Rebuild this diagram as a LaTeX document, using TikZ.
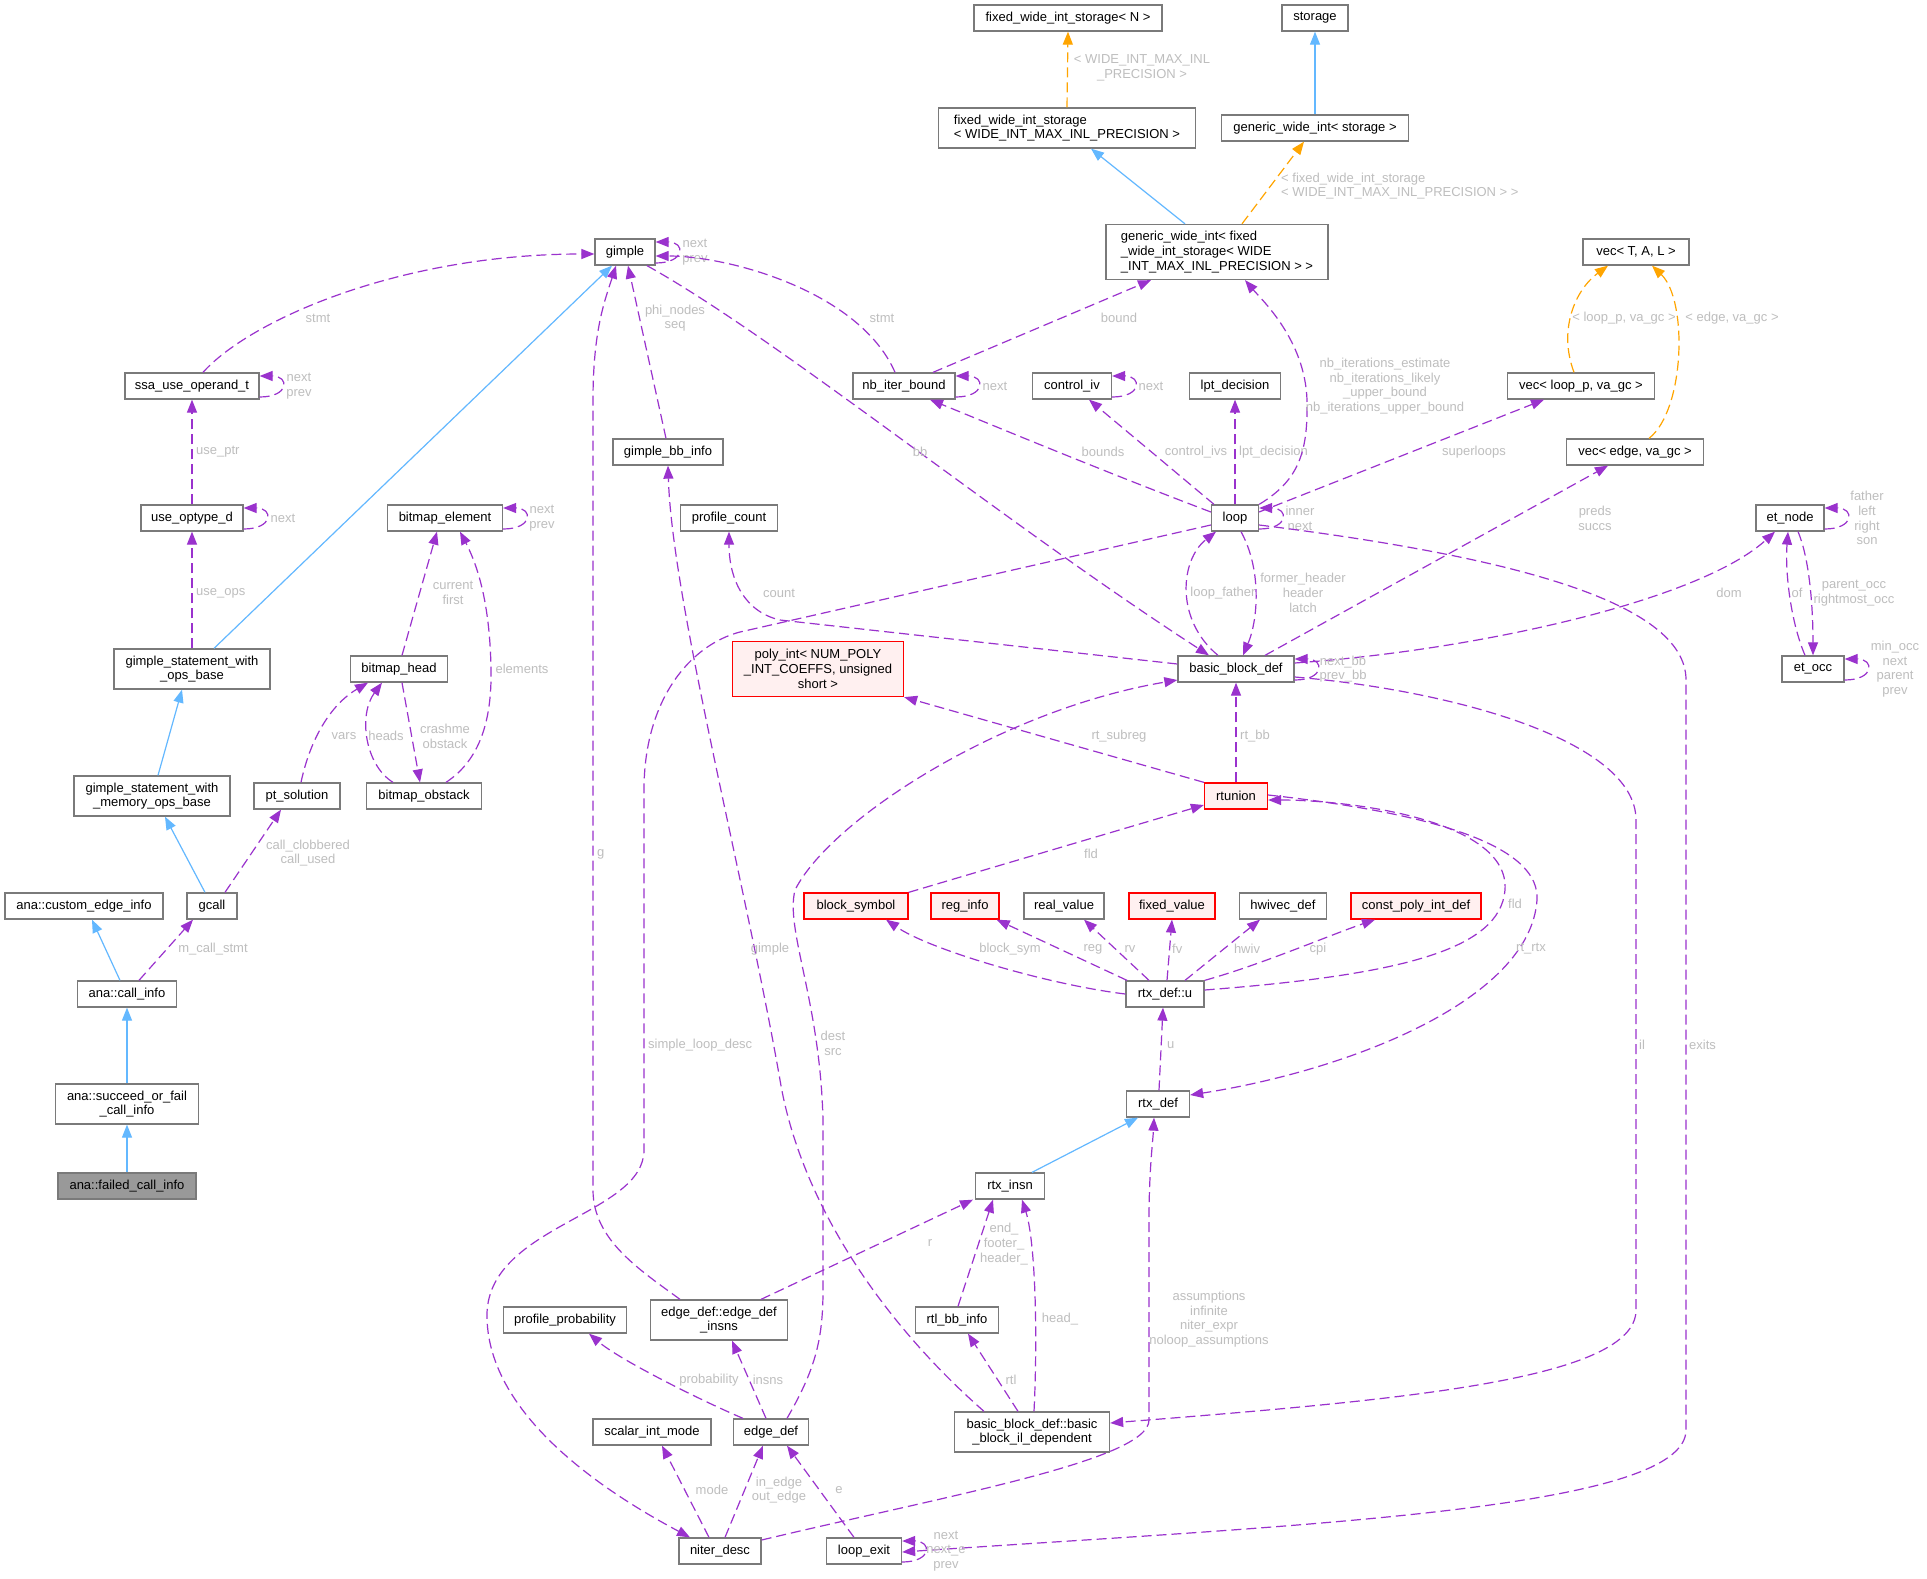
\documentclass[tikz,border=0pt]{standalone}
\usepackage{fontspec}
\setmainfont{Liberation Sans}
\usetikzlibrary{arrows.meta,calc}
\definecolor{purp}{HTML}{9A32CD}
\definecolor{blu}{HTML}{63B8FF}
\definecolor{orng}{HTML}{FFA500}
\definecolor{boxgray}{HTML}{7A7A7A}
\definecolor{labgray}{HTML}{BEBEBE}
\definecolor{redfill}{HTML}{FFF0F0}
\definecolor{focusfill}{HTML}{999999}
\newcommand{\sloop}[1]{\draw[use] ([yshift=-11pt]#1.east) .. controls +(30,0) and +(30,0) .. ([yshift=10pt]#1.east);}
\begin{document}
\begin{tikzpicture}[x=1pt,y=-1pt,
  every node/.style={font=\fontsize{13}{14.7}\selectfont},
  box/.style={draw=boxgray, line width=1.3pt, fill=white, minimum height=26pt, inner xsep=0pt, inner ysep=2pt, align=center},
  redbox/.style={box, draw=red, fill=redfill},
  focus/.style={box, fill=focusfill},
  use/.style={draw=purp, line width=1.2pt, dash pattern=on 10pt off 5pt, -{Triangle[length=13pt,width=10pt]}},
  inh/.style={draw=blu, line width=1.2pt, -{Triangle[length=13pt,width=10pt]}},
  tmpl/.style={draw=orng, line width=1.2pt, dash pattern=on 10pt off 5pt, -{Triangle[length=13pt,width=10pt]}},
  lab/.style={text=labgray, align=center, inner sep=0pt},
]
\fill[white] (0,0) rectangle (1927,1579);
\useasboundingbox (0,0) rectangle (1927,1579);

% ---------------- nodes ----------------
\node[box, minimum width=188pt] (fwisN) at (1068,18) {fixed\_wide\_int\_storage< N >};
\node[box, minimum width=66pt] (storage) at (1315,18) {storage};
\node[box, minimum width=257pt, minimum height=40pt, align=left] (fwis) at (1067,128) {fixed\_wide\_int\_storage\\< WIDE\_INT\_MAX\_INL\_PRECISION >};
\node[box, minimum width=187pt] (gwis) at (1315,128) {generic\_wide\_int< storage >};
\node[box, minimum width=222pt, minimum height=55pt, align=left] (gwif) at (1217,252) {generic\_wide\_int< fixed\\\_wide\_int\_storage< WIDE\\\_INT\_MAX\_INL\_PRECISION > >};
\node[box, minimum width=60pt] (gimple) at (625,252) {gimple};
\node[box, minimum width=106pt] (vecTAL) at (1636,252) {vec< T, A, L >};
\node[box, minimum width=134pt] (ssa) at (192,386) {ssa\_use\_operand\_t};
\node[box, minimum width=102pt] (nbib) at (904,386) {nb\_iter\_bound};
\node[box, minimum width=79pt] (civ) at (1072,386) {control\_iv};
\node[box, minimum width=91pt] (lpt) at (1235,386) {lpt\_decision};
\node[box, minimum width=147pt] (vecloop) at (1581,386) {vec< loop\_p, va\_gc >};
\node[box, minimum width=110pt] (gbb) at (668,452) {gimple\_bb\_info};
\node[box, minimum width=137pt] (vecedge) at (1635,452) {vec< edge, va\_gc >};
\node[box, minimum width=102pt] (useop) at (192,518) {use\_optype\_d};
\node[box, minimum width=115pt] (bel) at (445,518) {bitmap\_element};
\node[box, minimum width=97pt] (pcount) at (729,518) {profile\_count};
\node[box, minimum width=47pt] (loop) at (1235,518) {loop};
\node[box, minimum width=68pt] (etnode) at (1790,518) {et\_node};
\node[box, minimum width=156pt, minimum height=40pt] (gswob) at (192,669) {gimple\_statement\_with\\\_ops\_base};
\node[box, minimum width=97pt] (bhead) at (399,669) {bitmap\_head};
\node[redbox, minimum width=171pt, minimum height=55pt] (polyint) at (818,669) {poly\_int< NUM\_POLY\\\_INT\_COEFFS, unsigned\\short >};
\node[box, minimum width=116pt] (bbd) at (1236,669) {basic\_block\_def};
\node[box, minimum width=62pt] (etocc) at (1813,669) {et\_occ};
\node[box, minimum width=156pt, minimum height=40pt] (gswmob) at (152,796) {gimple\_statement\_with\\\_memory\_ops\_base};
\node[box, minimum width=86pt] (pts) at (297,796) {pt\_solution};
\node[box, minimum width=115pt] (bobs) at (424,796) {bitmap\_obstack};
\node[redbox, minimum width=63pt] (rtunion) at (1236,796) {rtunion};
\node[box, minimum width=158pt] (cei) at (84,906) {ana::custom\_edge\_info};
\node[box, minimum width=50pt] (gcall) at (212,906) {gcall};
\node[redbox, minimum width=104pt] (bsym) at (856,906) {block\_symbol};
\node[redbox, minimum width=68pt] (reginfo) at (965,906) {reg\_info};
\node[box, minimum width=80pt] (realv) at (1064,906) {real\_value};
\node[redbox, minimum width=86pt] (fixedv) at (1172,906) {fixed\_value};
\node[box, minimum width=87pt] (hwivec) at (1283,906) {hwivec\_def};
\node[redbox, minimum width=130pt] (cpid) at (1416,906) {const\_poly\_int\_def};
\node[box, minimum width=99pt] (callinfo) at (127,994) {ana::call\_info};
\node[box, minimum width=78pt] (rtxu) at (1165,994) {rtx\_def::u};
\node[box, minimum width=143pt, minimum height=40pt] (sofci) at (127,1104) {ana::succeed\_or\_fail\\\_call\_info};
\node[box, minimum width=63pt] (rtxdef) at (1158,1104) {rtx\_def};
\node[focus, minimum width=138pt] (failed) at (127,1186) {ana::failed\_call\_info};
\node[box, minimum width=69pt] (rtxinsn) at (1010,1186) {rtx\_insn};
\node[box, minimum width=123pt] (pprob) at (565,1320) {profile\_probability};
\node[box, minimum width=137pt, minimum height=40pt] (eddi) at (719,1320) {edge\_def::edge\_def\\\_insns};
\node[box, minimum width=83pt] (rtlbb) at (957,1320) {rtl\_bb\_info};
\node[box, minimum width=155pt, minimum height=40pt] (bbild) at (1032,1432) {basic\_block\_def::basic\\\_block\_il\_dependent};
\node[box, minimum width=118pt] (sim) at (652,1432) {scalar\_int\_mode};
\node[box, minimum width=75pt] (edgedef) at (771,1432) {edge\_def};
\node[box, minimum width=82pt] (niter) at (720,1551) {niter\_desc};
\node[box, minimum width=75pt] (lexit) at (864,1551) {loop\_exit};

% ---------------- inheritance ----------------
\draw[inh] (gwis.north) -- (storage.south);
\draw[inh] ([xshift=-32pt]gwif.north) -- ([xshift=24pt]fwis.south);
\draw[inh] ([xshift=22pt]gswob.north) -- ([xshift=-13pt]gimple.south);
\draw[inh] ([xshift=6pt]gswmob.north) -- ([xshift=-10pt]gswob.south);
\draw[inh] ([xshift=-7pt]gcall.north) -- ([xshift=13pt]gswmob.south);
\draw[inh] ([xshift=-7pt]callinfo.north) -- ([xshift=8pt]cei.south);
\draw[inh] (sofci.north) -- (callinfo.south);
\draw[inh] (failed.north) -- (sofci.south);
\draw[inh] ([xshift=22pt]rtxinsn.north) -- ([xshift=-20pt]rtxdef.south);

% ---------------- templates ----------------
\draw[tmpl] (fwis.north) -- (fwisN.south);
\node[lab] (lo1) at (1142,68) {< WIDE\_INT\_MAX\_INL\\\_PRECISION >};
\draw[tmpl] ([xshift=25pt]gwif.north) -- ([xshift=-11pt]gwis.south);
\node[lab, anchor=west, align=left] (lo2) at (1281,186) {< fixed\_wide\_int\_storage\\< WIDE\_INT\_MAX\_INL\_PRECISION > >};
\draw[tmpl] ([xshift=-7pt]vecloop.north) .. controls (1558,330) and (1575,290) .. ([xshift=-28pt]vecTAL.south);
\node[lab] (lo3) at (1624,318) {< loop\_p, va\_gc >};
\draw[tmpl] ([xshift=14pt]vecedge.north) .. controls (1685,410) and (1688,300) .. ([xshift=16pt]vecTAL.south);
\node[lab] (lo4) at (1732,318) {< edge, va\_gc >};

% ---------------- usage ----------------
\draw[use] ([xshift=11pt]ssa.north) .. controls (250,320) and (400,254) .. ([yshift=-2pt]gimple.west);
\node[lab] at (318,318) {stmt};
\sloop{ssa}
\node[lab] at (299,386) {next\\prev};
\draw[use] (useop.north) -- (ssa.south);
\node[lab, anchor=west] at (196,452) {use\_ptr};
\sloop{useop}
\node[lab] at (283,518) {next};
\draw[use] (gswob.north) -- (useop.south);
\node[lab, anchor=west] at (196,593) {use\_ops};
\sloop{gimple}
\node[lab] at (695,252) {next\\prev};
\draw[use] ([xshift=-9pt]nbib.north) .. controls (860,292) and (730,256) .. ([yshift=-4pt]gimple.east);
\node[lab] at (882,318) {stmt};
\draw[use] ([xshift=-2pt]gbb.north) -- ([xshift=3pt]gimple.south);
\node[lab] at (675,318) {phi\_nodes\\seq};
\draw[use] ([xshift=-39pt]eddi.north) .. controls (640,1270) and (593,1240) .. (593,1190) -- (593,400) .. controls (593,330) and (605,300) .. ([xshift=-9pt]gimple.south);
\node[lab, anchor=west] at (597,854) {g};
\draw[use] ([xshift=22pt]gimple.south) .. controls (780,340) and (1000,520) .. ([xshift=-27pt]bbd.north);
\node[lab] at (920,452) {bb};

\draw[use] ([xshift=-18pt]bbd.north) .. controls (1175,620) and (1180,560) .. ([xshift=-19pt]loop.south);
\node[lab] at (1223,593) {loop\_father};
\draw[use] ([xshift=6pt]loop.south) .. controls (1262,570) and (1258,620) .. ([xshift=7pt]bbd.north);
\node[lab] at (1303,593) {former\_header\\header\\latch};
\draw[use] ([yshift=6pt]loop.west) .. controls (1100,470) and (980,420) .. ([xshift=26pt]nbib.south);
\node[lab] at (1103,452) {bounds};
\draw[use] ([xshift=29pt]nbib.north) -- ([xshift=-66pt]gwif.south);
\node[lab] at (1119,318) {bound};
\sloop{nbib}
\node[lab] at (995,386) {next};
\sloop{civ}
\node[lab] at (1151,386) {next};
\draw[use] ([xshift=-21pt]loop.north) -- ([xshift=17pt]civ.south);
\node[lab] at (1196,452) {control\_ivs};
\draw[use] (loop.north) -- (lpt.south);
\node[lab, anchor=west] at (1239,452) {lpt\_decision};
\draw[use] (loop.north east) .. controls (1300,480) and (1308,450) .. (1307,400) .. controls (1305,340) and (1262,300) .. ([xshift=28pt]gwif.south);
\node[lab] at (1385,386) {nb\_iterations\_estimate\\nb\_iterations\_likely\\\_upper\_bound\\nb\_iterations\_upper\_bound};
\draw[use] ([yshift=6pt]loop.east) -- ([xshift=-37pt]vecloop.south);
\node[lab] at (1474,452) {superloops};
\sloop{loop}
\node[lab] at (1300,518) {inner\\next};
\draw[use] ([xshift=29pt]bbd.north) -- ([xshift=-27pt]vecedge.south);
\node[lab] at (1595,518) {preds\\succs};
\draw[use] ([yshift=6pt]bbd.east) .. controls (1480,650) and (1700,600) .. ([xshift=-15pt]etnode.south);
\node[lab] at (1729,593) {dom};
\sloop{bbd}
\node[lab] at (1343,669) {next\_bb\\prev\_bb};
\draw[use] ([yshift=-7pt]loop.west) -- (740,632) .. controls (690,645) and (644,700) .. (644,790) -- (644,1150) .. controls (644,1215) and (490,1225) .. (487,1313) .. controls (485,1420) and (620,1500) .. ([xshift=-30pt]niter.north);
\node[lab, anchor=west] at (648,1045) {simple\_loop\_desc};
\draw[use] ([xshift=-48pt]bbild.north) .. controls (880,1320) and (800,1200) .. (780,1080) .. controls (745,880) and (672,600) .. (gbb.south);
\node[lab] at (770,949) {gimple};
\draw[use] ([yshift=5pt]bbd.west) -- (780,620) .. controls (745,612) and (729,580) .. (pcount.south);
\node[lab] at (779,593) {count};

\draw[use] (rtunion.north west) -- (polyint.south east);
\node[lab] at (1119,736) {rt\_subreg};
\draw[use] (rtunion.north) -- (bbd.south);
\node[lab, anchor=west] at (1240,736) {rt\_bb};
\draw[use] (bsym.north east) -- ([yshift=-9pt]rtunion.west);
\node[lab] at (1091,854) {fld};
\draw[use] (rtxu.west) .. controls (1050,985) and (930,950) .. ([xshift=30pt]bsym.south);
\node[lab] at (1010,949) {block\_sym};
\draw[use] ([xshift=-38pt]rtxu.north) -- ([xshift=-3pt]reginfo.south east);
\node[lab] at (1093,949) {reg};
\draw[use] ([xshift=-16pt]rtxu.north) -- ([xshift=20pt]realv.south);
\node[lab] at (1130,949) {rv};
\draw[use] ([xshift=2pt]rtxu.north) -- (fixedv.south);
\node[lab, anchor=west] at (1172,949) {fv};
\draw[use] ([xshift=20pt]rtxu.north) -- ([xshift=-23pt]hwivec.south);
\node[lab] at (1247,949) {hwiv};
\draw[use] (rtxu.north east) .. controls (1260,965) and (1330,935) .. ([xshift=-41pt]cpid.south);
\node[lab] at (1318,949) {cpi};
\draw[use] ([yshift=4pt]rtxu.east) .. controls (1400,975) and (1500,950) .. (1505,890) .. controls (1510,820) and (1350,800) .. ([yshift=-4pt]rtunion.east);
\node[lab] at (1515,904) {fld};
\draw[use] ([yshift=1pt]rtunion.east) .. controls (1450,815) and (1540,850) .. (1537,900) .. controls (1530,1000) and (1350,1070) .. ([yshift=9pt]rtxdef.east);
\node[lab] at (1531,949) {rt\_rtx};
\draw[use] ([xshift=1pt]rtxdef.north) -- ([xshift=-2pt]rtxu.south);
\node[lab, anchor=west] at (1167,1045) {u};
\draw[use] ([xshift=42pt]eddi.north) -- ([xshift=-37pt]rtxinsn.south);
\node[lab] at (930,1243) {r};
\draw[use] ([xshift=1pt]rtlbb.north) -- ([xshift=-17pt]rtxinsn.south);
\node[lab] at (1004,1244) {end\_\\footer\_\\header\_};
\draw[use] ([xshift=2pt]bbild.north) .. controls (1038,1330) and (1035,1240) .. ([xshift=12pt]rtxinsn.south);
\node[lab] at (1060,1319) {head\_};
\draw[use] ([xshift=-14pt]bbild.north) -- ([xshift=11pt]rtlbb.south);
\node[lab] at (1011,1380) {rtl};
\draw[use] ([yshift=-8pt]bbd.east) .. controls (1450,690) and (1636,740) .. (1636,820) -- (1636,1310) .. controls (1636,1380) and (1400,1400) .. ([yshift=9pt]bbild.east);
\node[lab, anchor=west] at (1639,1045) {il};
\draw[use] ([yshift=-7pt]loop.east) .. controls (1500,555) and (1686,600) .. (1686,680) -- (1686,1430) .. controls (1686,1510) and (1300,1525) .. ([yshift=-1pt]lexit.east);
\node[lab, anchor=west] at (1689,1045) {exits};
\sloop{lexit}
\node[lab] at (946,1551) {next\\next\_e\\prev};

\draw[use] ([xshift=-5pt]edgedef.north) -- ([xshift=13pt]eddi.south);
\node[lab] at (768,1380) {insns};
\draw[use] ([xshift=-28pt]edgedef.north) .. controls (700,1400) and (620,1360) .. ([xshift=24pt]pprob.south);
\node[lab] at (709,1380) {probability};
\draw[use] ([xshift=16pt]edgedef.north) .. controls (815,1370) and (823,1340) .. (823,1290) -- (823,1120) .. controls (820,1000) and (785,930) .. (795,890) .. controls (830,820) and (1000,710) .. ([yshift=-11pt]bbd.west);
\node[lab] at (833,1043) {dest\\src};
\draw[use] ([xshift=-11pt]niter.north) -- ([xshift=10pt]sim.south);
\node[lab] at (712,1490) {mode};
\draw[use] ([xshift=5pt]niter.north) -- ([xshift=-8pt]edgedef.south);
\node[lab] at (779,1490) {in\_edge\\out\_edge};
\draw[use] ([xshift=-10pt]lexit.north) -- ([xshift=16pt]edgedef.south);
\node[lab] at (839,1490) {e};
\draw[use] ([yshift=11pt]niter.east) .. controls (950,1495) and (1149,1460) .. (1149,1420) -- (1149,1220) .. controls (1149,1170) and (1153,1140) .. ([xshift=-4pt]rtxdef.south);
\node[lab] at (1209,1319) {assumptions\\infinite\\niter\_expr\\noloop\_assumptions};

\draw[use] ([xshift=-8pt]etocc.north) .. controls (1790,620) and (1785,570) .. ([xshift=-2pt]etnode.south);
\node[lab] at (1797,593) {of};
\draw[use] ([xshift=8pt]etnode.south) .. controls (1810,560) and (1813,610) .. (etocc.north);
\node[lab] at (1854,593) {parent\_occ\\rightmost\_occ};
\sloop{etnode}
\node[lab] at (1867,518) {father\\left\\right\\son};
\sloop{etocc}
\node[lab] at (1895,669) {min\_occ\\next\\parent\\prev};

\draw[use] ([xshift=3pt]bhead.north) -- ([xshift=-8pt]bel.south);
\node[lab] at (453,593) {current\\first};
\draw[use] ([xshift=22pt]bobs.north) .. controls (480,760) and (492,720) .. (491,669) .. controls (490,610) and (480,570) .. ([xshift=15pt]bel.south);
\node[lab] at (522,669) {elements};
\sloop{bel}
\node[lab] at (542,518) {next\\prev};
\draw[use] ([xshift=-31pt]bobs.north) .. controls (365,765) and (358,715) .. ([xshift=-17pt]bhead.south);
\node[lab] at (386,736) {heads};
\draw[use] ([xshift=3pt]bhead.south) -- ([xshift=-4pt]bobs.north);
\node[lab] at (445,736) {crashme\\obstack};
\draw[use] ([xshift=4pt]pts.north) .. controls (310,740) and (330,705) .. ([xshift=-31pt]bhead.south);
\node[lab] at (344,736) {vars};
\draw[use] ([xshift=13pt]gcall.north) -- ([xshift=-16pt]pts.south);
\node[lab] at (308,853) {call\_clobbered\\call\_used};
\draw[use] ([xshift=12pt]callinfo.north) -- ([xshift=-19pt]gcall.south);
\node[lab] at (213,949) {m\_call\_stmt};
\end{tikzpicture}
\end{document}
